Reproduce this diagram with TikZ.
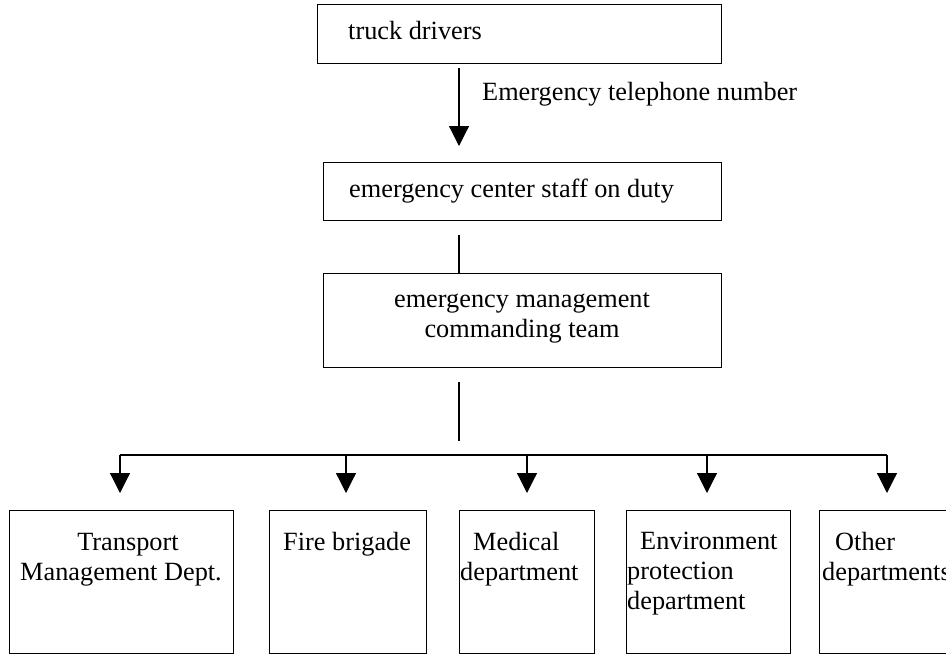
\documentclass[tikz,border=0pt]{standalone}
\usepackage{fontspec}
\setmainfont{Liberation Serif}
\usetikzlibrary{arrows.meta,positioning}

\begin{document}
\begin{tikzpicture}[x=1pt,y=-1pt,
  font=\fontsize{26.3}{30}\selectfont,
  box/.style={draw,line width=1.2pt,anchor=north west,inner sep=0pt},
  lbl/.style={inner sep=0pt,anchor=base west,align=left},
  link/.style={line width=1.2pt},
  arr/.style={link,-{Triangle[length=20pt,width=20pt]}}]
\clip (0,0) rectangle (946,654);
% top chain
\node[box,minimum width=404pt,minimum height=59pt] (trk) at (317,4) {};
\node[lbl] (trkt) at (348,39) {truck drivers};
\coordinate (call1) at (459,68);
\coordinate (call2) at (459,146);
\draw[arr] (call1) -- (call2);
\node[lbl] (tel) at (482,100) {Emergency telephone number};
\node[box,minimum width=398pt,minimum height=58pt] (staff) at (323,162) {};
\node[lbl] (stafft) at (349,197) {emergency center staff on duty};
\coordinate (up1) at (459,235);
\node[box,minimum width=398pt,minimum height=94pt] (team) at (323,273) {};
\draw[link] (up1) -- (up1 |- team.north);
\node[lbl,anchor=base,align=center] (teamt) at (522,337) {emergency management\\commanding team};
% bus to departments
\coordinate (dn1) at (459,382);
\coordinate (dn2) at (459,441);
\draw[link] (dn1) -- (dn2);
\coordinate (busl) at (120,455);
\coordinate (busr) at (887,455);
\draw[link] (busl) -- (busr);
\foreach \n/\x/\w in {tmd/9/224,fire/269/157,med/459/135,env/626/164,oth/819/141}
  {\node[box,minimum width=\w pt,minimum height=143pt] (\n) at (\x,510) {};}
\foreach \x in {120,346,527,707,887}
  {\draw[arr] (\x,455) -- (\x,493);}
% department texts (base = last line)
\node[lbl,anchor=base,align=center] (tmdt) at (121,580) {\hspace*{14pt}Transport\\Management Dept.};
\node[lbl] (firet) at (283,550) {Fire brigade};
\node[lbl] (medt) at (460,580) {\hspace*{13pt}Medical\\department};
\node[lbl] (envt) at (627,609) {\hspace*{13pt}Environment\\protection\\department};
\node[lbl] (otht) at (822,580) {\hspace*{13pt}Other\\departments};
\end{tikzpicture}
\end{document}
